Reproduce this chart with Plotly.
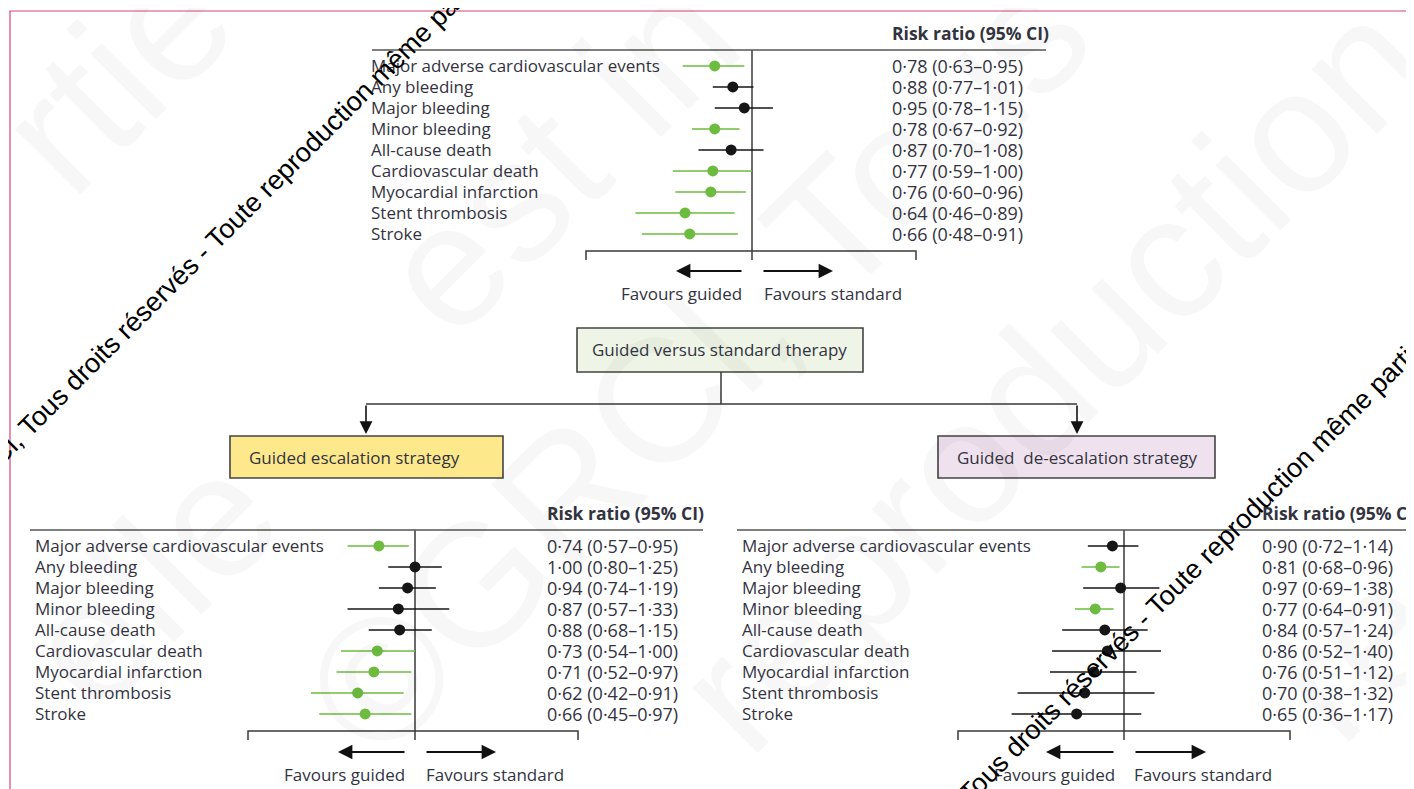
import math
import plotly.graph_objects as go

# ---------------- data ----------------
outcomes = [
    "Major adverse cardiovascular events",
    "Any bleeding",
    "Major bleeding",
    "Minor bleeding",
    "All-cause death",
    "Cardiovascular death",
    "Myocardial infarction",
    "Stent thrombosis",
    "Stroke",
]

overall_rr = [0.78, 0.88, 0.95, 0.78, 0.87, 0.77, 0.76, 0.64, 0.66]
overall_lo = [0.63, 0.77, 0.78, 0.67, 0.70, 0.59, 0.60, 0.46, 0.48]
overall_hi = [0.95, 1.01, 1.15, 0.92, 1.08, 1.00, 0.96, 0.89, 0.91]

escal_rr = [0.74, 1.00, 0.94, 0.87, 0.88, 0.73, 0.71, 0.62, 0.66]
escal_lo = [0.57, 0.80, 0.74, 0.57, 0.68, 0.54, 0.52, 0.42, 0.45]
escal_hi = [0.95, 1.25, 1.19, 1.33, 1.15, 1.00, 0.97, 0.91, 0.97]

deesc_rr = [0.90, 0.81, 0.97, 0.77, 0.84, 0.86, 0.76, 0.70, 0.65]
deesc_lo = [0.72, 0.68, 0.69, 0.64, 0.57, 0.52, 0.51, 0.38, 0.36]
deesc_hi = [1.14, 0.96, 1.38, 0.91, 1.24, 1.40, 1.12, 1.32, 1.17]

header_text = "Risk ratio (95% CI)"
favours_guided = "Favours guided"
favours_standard = "Favours standard"
root_title = "Guided versus standard therapy"
escal_title = "Guided escalation strategy"
deesc_title = "Guided  de-escalation strategy"

# ---------------- layout helpers ----------------
W, H = 1414, 789
OFF = 8  # the page body adds an 8px margin; work in window pixels

def X(px):
    return (px - OFF) / W
def Y(py):
    return 1 - (py - OFF) / H

FONT = "'Open Sans', Lato, sans-serif"
FS = 17
FS_VAL = 18
TXT = "#33333f"
GREEN = "#6dbb3f"
BLACK = "#161616"
LINE = "#3a3a3a"

def fmt(v):
    return f"{v:.2f}".replace(".", "\u00b7")

panels = [
    dict(ax="", rr=overall_rr, lo=overall_lo, hi=overall_hi,
         top=50, bot=260, bl=586, br=916, c=752, k=150,
         label_x=372, value_x=893, rule=(372, 1046), head_y=33,
         arr_y=271, lh=676, lt=743, rt=762, rh=833,
         fav_y=293, fg=681, fs=833),
    dict(ax="2", rr=escal_rr, lo=escal_lo, hi=escal_hi,
         top=530, bot=740, bl=248, br=578, c=415, k=120,
         label_x=36, value_x=548, rule=(30, 703), head_y=513,
         arr_y=752, lh=338, lt=406, rt=425, rh=496,
         fav_y=774, fg=344, fs=495),
    dict(ax="3", rr=deesc_rr, lo=deesc_lo, hi=deesc_hi,
         top=530, bot=740, bl=958, br=1290, c=1124, k=110,
         label_x=743, value_x=1263, rule=(737, 1420), head_y=513,
         arr_y=752, lh=1046, lt=1115, rt=1134, rh=1206,
         fav_y=774, fg=1054, fs=1203),
]

Y_TOP, Y_BOT = -0.76, 9.24

fig = go.Figure()
shapes = []
annotations = []
layout_axes = {}

# ---------------- watermarks (drawn first, behind) ----------------
faint = [
    ("rtie", 115, 75),
    ("elle", 150, 580),
    ("est in", 558, 154),
    ("\u00a9GRCl, Tous", 697, 364),
    ("reproduction", 1050, 375),
    ("re", 1353, 652),
]
for t, cx, cy in faint:
    annotations.append(dict(text=t, x=X(cx), y=Y(cy), xref="paper", yref="paper",
                            xanchor="center", yanchor="middle", showarrow=False, textangle=-45,
                            font=dict(family="Liberation Sans, Arial", size=175,
                                      color="rgba(0,0,0,0.032)")))

for p in panels:
    xa = "x" + p["ax"]
    ya = "y" + p["ax"]
    n = len(outcomes)
    rows = list(range(n))
    lo_log = (p["bl"] - p["c"]) / p["k"] / math.log(10)
    hi_log = (p["br"] - p["c"]) / p["k"] / math.log(10)
    layout_axes["xaxis" + p["ax"]] = dict(
        type="log", range=[lo_log, hi_log], domain=[X(p["bl"]), X(p["br"])],
        anchor=ya, visible=False, fixedrange=True)
    layout_axes["yaxis" + p["ax"]] = dict(
        range=[Y_BOT, Y_TOP], domain=[Y(p["bot"]), Y(p["top"])],
        anchor=xa, visible=False, fixedrange=True)

    # reference line at RR = 1
    fig.add_trace(go.Scatter(x=[1, 1], y=[Y_TOP, Y_BOT], mode="lines",
                             line=dict(color=LINE, width=1.5),
                             xaxis=xa, yaxis=ya, showlegend=False, hoverinfo="skip"))

    for sig, col in ((True, GREEN), (False, BLACK)):
        idx = [i for i in rows if (p["hi"][i] <= 1.0) == sig]
        fig.add_trace(go.Scatter(
            x=[p["rr"][i] for i in idx], y=[rows[i] for i in idx],
            mode="markers",
            marker=dict(color=col, size=11),
            error_x=dict(type="data", symmetric=False,
                         array=[p["hi"][i] - p["rr"][i] for i in idx],
                         arrayminus=[p["rr"][i] - p["lo"][i] for i in idx],
                         width=0, thickness=1.5, color=col),
            xaxis=xa, yaxis=ya, showlegend=False, hoverinfo="skip"))

    for i, name in enumerate(outcomes):
        annotations.append(dict(text=name, x=X(p["label_x"] - 3), xref="paper", y=rows[i], yref=ya,
                                xanchor="left", yanchor="middle", showarrow=False,
                                font=dict(family=FONT, size=FS, color=TXT)))
        annotations.append(dict(text=f"{fmt(p['rr'][i])} ({fmt(p['lo'][i])}\u2013{fmt(p['hi'][i])})",
                                x=X(p["value_x"] - 3), xref="paper", y=rows[i], yref=ya,
                                xanchor="left", yanchor="middle", showarrow=False,
                                font=dict(family=FONT, size=FS_VAL, color=TXT)))
    annotations.append(dict(text="<b>" + header_text + "</b>", x=X(p["value_x"] - 3), xref="paper",
                            y=Y(p["head_y"]), yref="paper", xanchor="left", yanchor="middle",
                            showarrow=False, font=dict(family=FONT, size=FS + 0.5, color=TXT)))
    shapes.append(dict(type="line", xref="paper", yref="paper",
                       x0=X(p["rule"][0]), x1=X(p["rule"][1]), y0=Y(p["top"]), y1=Y(p["top"]),
                       line=dict(color="#555555", width=1.6)))
    bk = p["bot"] - 9
    shapes.append(dict(type="path", xref="paper", yref="paper",
                       path=f"M {X(p['bl'])},{Y(p['bot'])} L {X(p['bl'])},{Y(bk)} "
                            f"L {X(p['br'])},{Y(bk)} L {X(p['br'])},{Y(p['bot'])}",
                       line=dict(color=LINE, width=1.5)))
    annotations.append(dict(text="", x=X(p["lh"]), y=Y(p["arr_y"]), xref="paper", yref="paper",
                            ax=p["lt"] - p["lh"], ay=0, showarrow=True, arrowhead=2,
                            arrowsize=1.6, arrowwidth=1.8, arrowcolor="#111111"))
    annotations.append(dict(text="", x=X(p["rh"]), y=Y(p["arr_y"]), xref="paper", yref="paper",
                            ax=p["rt"] - p["rh"], ay=0, showarrow=True, arrowhead=2,
                            arrowsize=1.6, arrowwidth=1.8, arrowcolor="#111111"))
    annotations.append(dict(text=favours_guided, x=X(p["fg"]), y=Y(p["fav_y"]), xref="paper",
                            yref="paper", xanchor="center", yanchor="middle", showarrow=False,
                            font=dict(family=FONT, size=FS, color=TXT)))
    annotations.append(dict(text=favours_standard, x=X(p["fs"]), y=Y(p["fav_y"]), xref="paper",
                            yref="paper", xanchor="center", yanchor="middle", showarrow=False,
                            font=dict(family=FONT, size=FS, color=TXT)))

# ---------------- flow boxes ----------------
boxes = [
    (root_title, 577, 863, 328, 372, "#eef5e7", 720),
    (escal_title, 230, 503, 436, 478, "#fde98c", 354),
    (deesc_title, 938, 1215, 436, 478, "#efe2ee", 1077),
]
for title, x0, x1, y0, y1, fill, tx in boxes:
    shapes.append(dict(type="rect", xref="paper", yref="paper", x0=X(x0), x1=X(x1),
                       y0=Y(y1), y1=Y(y0), fillcolor=fill, line=dict(color="#444444", width=1.6),
                       layer="below"))
    annotations.append(dict(text=title, x=X(tx), y=Y((y0 + y1) / 2), xref="paper", yref="paper",
                            xanchor="center", yanchor="middle", showarrow=False,
                            font=dict(family=FONT, size=FS, color=TXT)))

shapes.append(dict(type="path", xref="paper", yref="paper",
                   path=f"M {X(721)},{Y(372)} L {X(721)},{Y(404)} M {X(366)},{Y(404)} L {X(1077)},{Y(404)}",
                   line=dict(color=LINE, width=1.5)))
for ax_x in (366, 1077):
    annotations.append(dict(text="", x=X(ax_x), y=Y(434), xref="paper", yref="paper",
                            ax=0, ay=-30, showarrow=True, arrowhead=2, arrowsize=1.6,
                            arrowwidth=1.6, arrowcolor="#111111"))

# pink frame
shapes.append(dict(type="path", xref="paper", yref="paper",
                   path=f"M {X(10)},{Y(800)} L {X(10)},{Y(11)} L {X(1430)},{Y(11)}",
                   line=dict(color="#d8476f", width=1.2)))

dark = [
    ("\u00a9GRCl, Tous droits r\u00e9serv\u00e9s - Toute reproduction m\u00eame partielle interdite", 262, 193),
    ("Tous droits r\u00e9serv\u00e9s - Toute reproduction m\u00eame partielle interdite", 1238, 524),
]
for t, cx, cy in dark:
    annotations.append(dict(text=t, x=X(cx), y=Y(cy), xref="paper", yref="paper",
                            xanchor="center", yanchor="middle", showarrow=False, textangle=-45,
                            font=dict(family="Liberation Sans, Arial", size=27, color="#000000")))

fig.update_layout(
    width=W, height=H,
    margin=dict(l=0, r=0, t=0, b=0),
    paper_bgcolor="white", plot_bgcolor="rgba(0,0,0,0)",
    shapes=shapes, annotations=annotations,
    showlegend=False,
    **layout_axes,
)

fig.write_html("out.html")
